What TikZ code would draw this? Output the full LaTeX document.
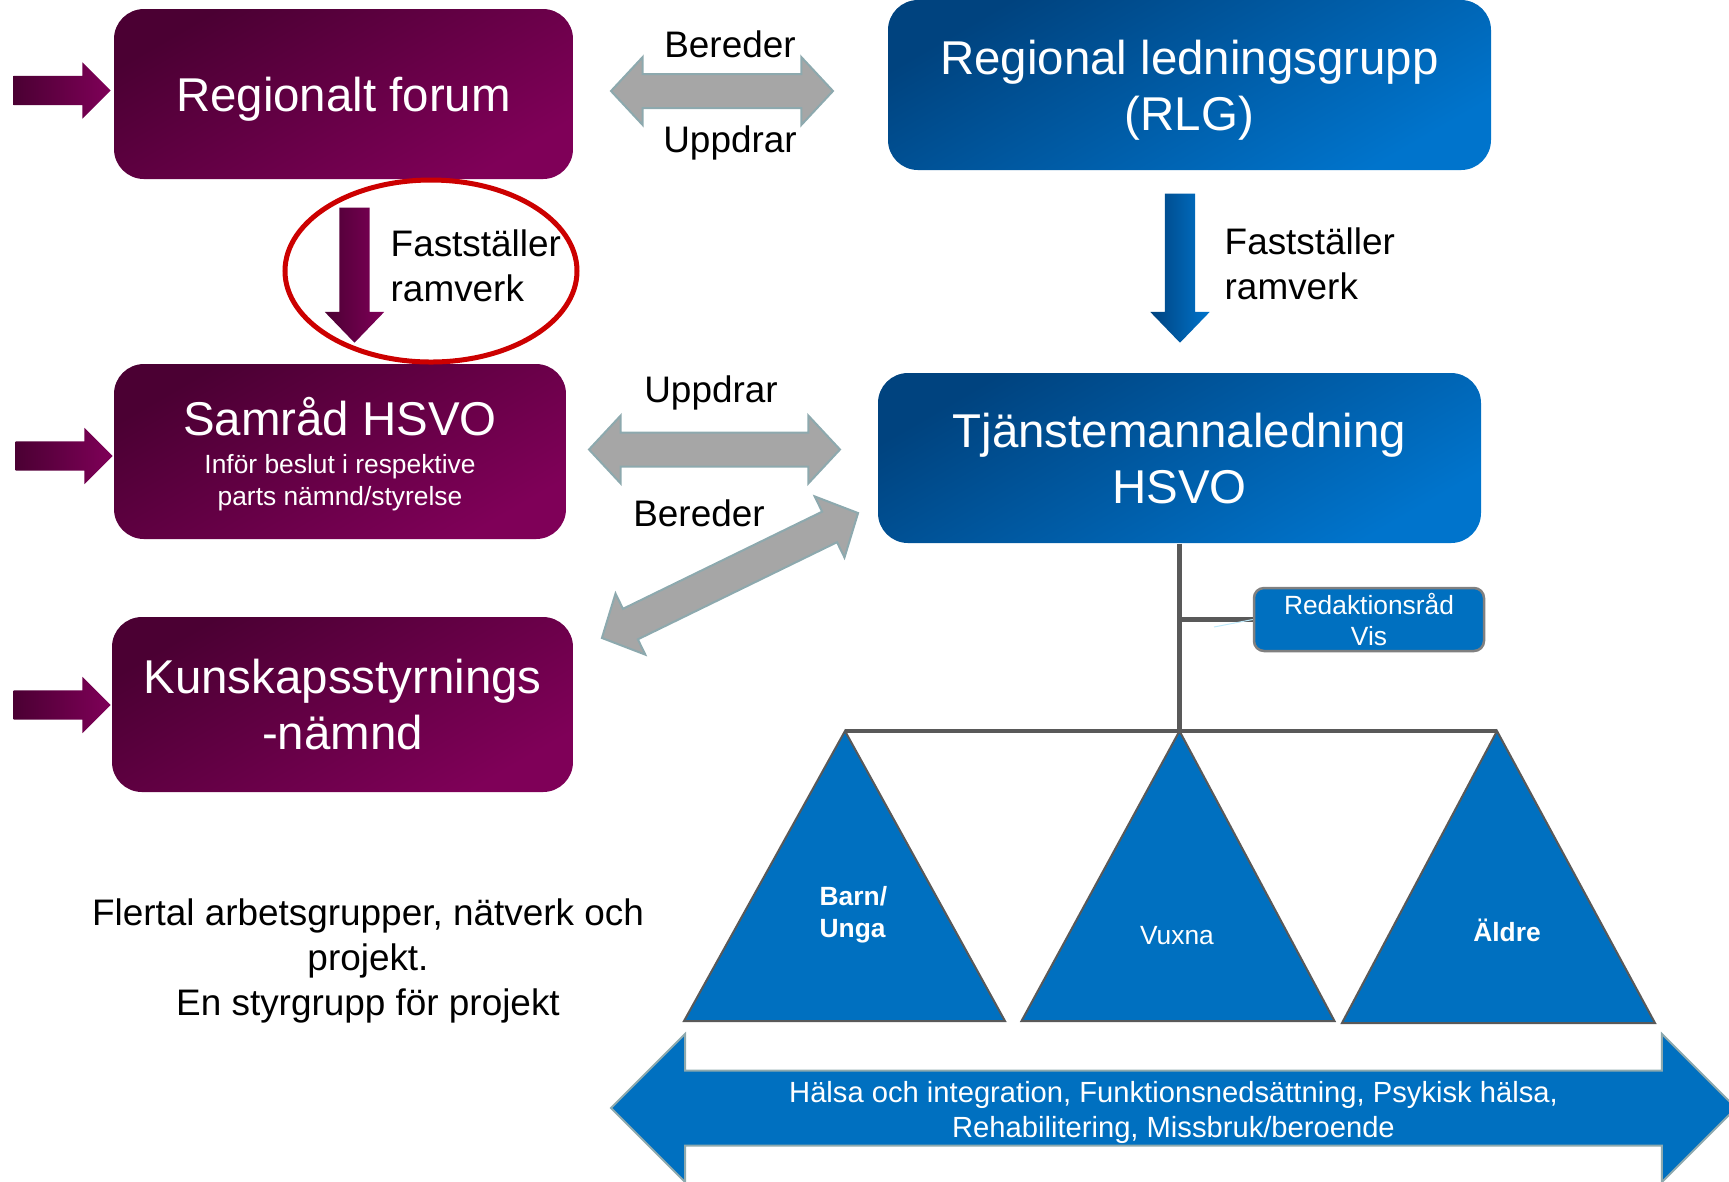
\documentclass[tikz,border=0pt]{standalone}
\usepackage{fontspec}
\setmainfont{Liberation Sans}
\usepackage{tikz}
\usetikzlibrary{shapes.arrows}
\definecolor{purpdark}{HTML}{4B0033}
\definecolor{purplight}{HTML}{7F0058}
\definecolor{bluedark}{HTML}{00437F}
\definecolor{bluelight}{HTML}{0074CC}
\definecolor{bluefill}{HTML}{0070C0}
\definecolor{arrgray}{HTML}{A6A6A6}
\definecolor{arrrim}{HTML}{8DA9AE}
\definecolor{linegray}{HTML}{595959}
\definecolor{ringred}{HTML}{CC0000}
\newcommand{\bigtxt}{\fontsize{13.5pt}{16pt}\selectfont}
\newcommand{\midtxt}{\fontsize{10.5pt}{12.9pt}\selectfont}
\newcommand{\smalltxt}{\fontsize{7.5pt}{9pt}\selectfont}
\newcommand{\bandtxt}{\fontsize{8.3pt}{9.7pt}\selectfont}
\tikzset{%
    purpbox/.style={rounded corners=3mm, top color=purpdark, bottom color=purplight,
      shading angle=30, text=white, align=center, inner sep=0pt, text depth=0pt, font=\bigtxt},
    bluebox/.style={purpbox, top color=bluedark, bottom color=bluelight, shading angle=30},
    smallbox/.style={rounded corners=1mm, fill=bluefill, draw=gray, line width=0.25mm,
      text=white, align=center, inner sep=0pt, font=\smalltxt},
    noroom/.style={inner xsep=0pt, text height=0pt, text depth=0pt},
    inarrow/.style={single arrow, noroom, anchor=tail, inner ysep=1.4mm, single arrow head extend=1.35mm,
      single arrow tip angle=90, minimum height=9.7mm, left color=purpdark, right color=purplight},
    downarrow/.style={single arrow, noroom, anchor=tail, rotate=-90, inner ysep=1.45mm,
      single arrow head extend=1.45mm, single arrow tip angle=88},
    grayarrow/.style={double arrow, noroom, inner ysep=1.6mm, double arrow head extend=1.7mm,
      double arrow tip angle=94, fill=arrgray, draw=arrrim, line width=0.2mm},
    lbl/.style={font=\midtxt, align=left, inner sep=0pt},
    tri/.style={fill=bluefill, draw=linegray, line width=0.2mm},
    conn/.style={draw=linegray, line width=0.45mm}
}

\begin{document}
\begin{tikzpicture}[x=0.1mm, y=-0.1mm]
      \useasboundingbox (0,0) rectangle (1729,1181);
      \clip (0,0) rectangle (1729,1181);

      \node[purpbox, minimum width=45.9mm, minimum height=17mm] (forum) at (343.5,94) {Regionalt forum};
      \node[purpbox, minimum width=45.2mm, minimum height=17.5mm] (samrad) at (340,451.5)
        {Samråd HSVO\\[-5.3pt]\smalltxt Inför beslut i respektive\\[-6.9pt]\smalltxt parts nämnd/styrelse};
      \node[purpbox, minimum width=46.1mm, minimum height=17.5mm] (kunskap) at (342.5,704.5) {Kunskapsstyrnings\\-nämnd};
      \node[bluebox, minimum width=60.3mm, minimum height=17mm] (rlg) at (1189.5,85) {Regional ledningsgrupp\\(RLG)};
      \node[bluebox, minimum width=60.3mm, minimum height=17mm] (tjm) at (1179.5,458) {Tjänstemannaledning\\HSVO};
      \node[smallbox, minimum width=23mm, minimum height=6.3mm] (redrad) at (1369,619.5) {Redaktionsråd\\Vis};

      \node[inarrow] (inforum) at (13,90.5) {};
      \node[inarrow] (insamrad) at (15,456) {};
      \node[inarrow] (inkunskap) at (13,705) {};

      \node[grayarrow, minimum height=22.2mm] (topswap) at (722,91) {};
      \node[lbl] (bereder1) at (730,44.5) {Bereder};
      \node[lbl] (uppdrar1) at (730,143) {Uppdrar};
      \node[grayarrow, minimum height=25.1mm] (midswap) at (714.5,449.5) {};
      \node[lbl] (uppdrar2) at (711,393) {Uppdrar};
      \node[lbl] (bereder2) at (699,513.5) {Bereder};
      \node[grayarrow, minimum height=28.5mm, rotate=26] (diagswap) at (730,575.5) {};

      \node[downarrow, minimum height=13.5mm, left color=purpdark, right color=purplight] (fastleft) at (354.5,207) {};
      \node[lbl, anchor=west] (ramleft) at (390,266) {Fastställer\\ramverk};
      \node[downarrow, minimum height=14.9mm, left color=bluedark, right color=bluelight] (fastright) at (1180,193) {};
      \node[lbl, anchor=west] (ramright) at (1224,264) {Fastställer\\ramverk};

      \draw[ringred, line width=0.5mm] (431,271) ellipse [x radius=146, y radius=91];

      \coordinate (barL) at (845,731);
      \coordinate (barR) at (1497,731);
      \coordinate (faint) at (1214,627);
      \draw[tri] (barL) -- ++(-161,290) -- ++(321,0) -- cycle;
      \draw[tri] (tjm.south |- barL) -- ++(-158,290) -- ++(313,0) -- cycle;
      \draw[tri] (barR) -- ++(-155,292) -- ++(313,0) -- cycle;
      \draw[conn] (tjm.south) -- (tjm.south |- barL);
      \draw[conn] (barL) -- (barR);
      \draw[conn] (redrad.west) -- (redrad.west -| tjm.south);
      \draw[cyan!25, line width=0.1mm] (faint) -- (redrad.west);

      \node[font=\smalltxt\bfseries, text=white, align=left, anchor=west, inner sep=0pt] (barn) at (819,914.5) {Barn/\\Unga};
      \node[font=\smalltxt, text=white] (vuxna) at (1177,936) {Vuxna};
      \node[font=\smalltxt\bfseries, text=white] (aldre) at (1507,930) {Äldre};

      \node[lbl, align=center] (flertal) at (368,961) {Flertal arbetsgrupper, nätverk och\\projekt.\\En styrgrupp för projekt};

      \node[double arrow, noroom, inner ysep=3.65mm, double arrow head extend=3.65mm, double arrow tip angle=90,
        minimum height=112.5mm, fill=bluefill, draw=arrrim, line width=0.2mm] (areas) at (1173.5,1108) {};
      \node[font=\bandtxt, text=white, align=center] (areatxt) at ([yshift=-0.44mm]areas.center)
        {Hälsa och integration, Funktionsnedsättning, Psykisk hälsa,\\Rehabilitering, Missbruk/beroende};
\end{tikzpicture}
\end{document}
